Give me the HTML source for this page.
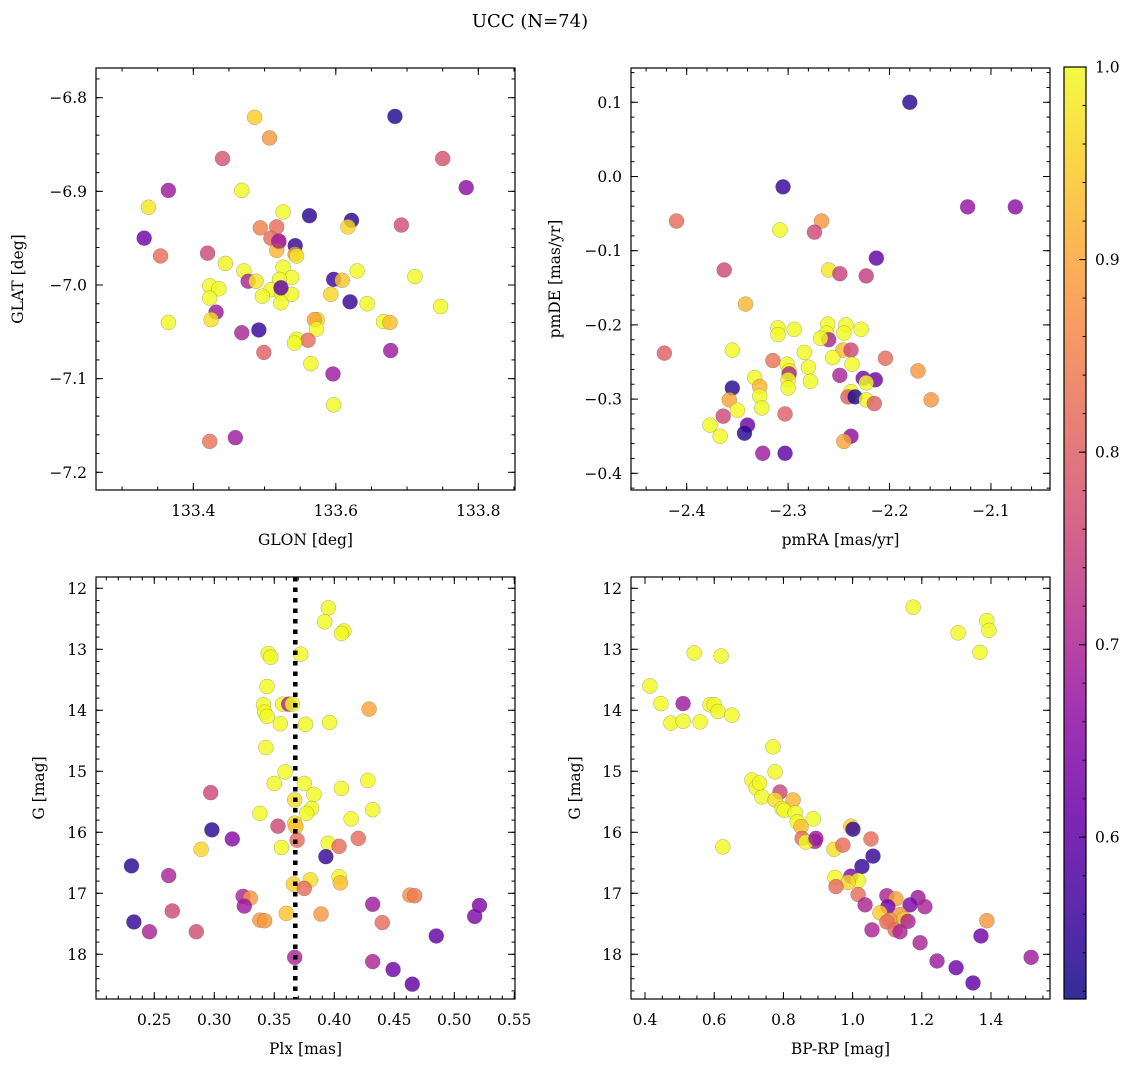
<!DOCTYPE html>
<html><head><meta charset="utf-8">
<style>
html,body{margin:0;padding:0;background:#fff;}
svg{display:block;font-family:"DejaVu Serif","Liberation Serif",serif;}
</style></head>
<body>
<svg id="fig" width="1136" height="1067" viewBox="0 0 1136 1067" xmlns="http://www.w3.org/2000/svg">
<rect width="1136" height="1067" fill="#fff"/>
<text x="530" y="27" font-size="18" text-anchor="middle">UCC (N=74)</text>
</svg>
<script>
// ---- data (panel 1: GLON / GLAT) ----
const glon = [133.486,133.507,133.683,133.441,133.750,133.365,133.468,133.783,133.337,133.526,133.563,133.622,133.617,133.494,133.517,133.692,133.331,133.509,133.520,133.543,133.517,133.354,133.420,133.543,133.545,133.445,133.471,133.526,133.630,133.711,133.538,133.477,133.488,133.597,133.609,133.521,133.423,133.436,133.509,133.423,133.497,133.524,133.538,133.523,133.593,133.620,133.644,133.747,133.432,133.425,133.365,133.574,133.570,133.573,133.667,133.676,133.468,133.492,133.545,133.561,133.542,133.677,133.499,133.565,133.596,133.597,133.423,133.459,133.520,133.523];
const glat = [-6.821,-6.843,-6.820,-6.865,-6.865,-6.899,-6.899,-6.896,-6.917,-6.922,-6.926,-6.931,-6.938,-6.939,-6.938,-6.936,-6.950,-6.950,-6.954,-6.958,-6.963,-6.969,-6.966,-6.967,-6.969,-6.977,-6.985,-6.981,-6.985,-6.991,-6.992,-6.996,-6.996,-6.994,-6.995,-6.994,-7.001,-7.004,-7.005,-7.014,-7.012,-7.009,-7.010,-7.019,-7.010,-7.018,-7.020,-7.023,-7.029,-7.037,-7.040,-7.037,-7.037,-7.047,-7.039,-7.040,-7.051,-7.048,-7.058,-7.059,-7.062,-7.070,-7.072,-7.084,-7.095,-7.128,-7.167,-7.163,-6.953,-7.003];
const prob1 = [0.95,0.88,0.53,0.78,0.78,0.68,1.0,0.66,0.98,1.0,0.54,0.54,0.96,0.85,0.82,0.77,0.62,0.82,0.70,0.55,0.92,0.82,0.76,0.88,0.98,0.99,1.0,1.0,1.0,1.0,1.0,0.70,0.98,0.56,0.94,1.0,1.0,1.0,1.0,1.0,1.0,1.0,1.0,1.0,0.96,0.55,1.0,1.0,0.68,0.97,1.0,0.97,0.90,1.0,1.0,0.93,0.70,0.55,1.0,0.82,1.0,0.68,0.80,1.0,0.68,1.0,0.83,0.68,0.70,0.60];
// ---- data (panel 2: pmRA / pmDE) ----
const pmra = [-2.180,-2.305,-2.123,-2.076,-2.410,-2.267,-2.308,-2.274,-2.213,-2.363,-2.260,-2.249,-2.223,-2.422,-2.342,-2.310,-2.294,-2.310,-2.261,-2.243,-2.228,-2.245,-2.262,-2.260,-2.268,-2.355,-2.246,-2.238,-2.284,-2.256,-2.204,-2.237,-2.315,-2.301,-2.280,-2.299,-2.172,-2.249,-2.226,-2.333,-2.299,-2.300,-2.214,-2.278,-2.223,-2.355,-2.328,-2.300,-2.238,-2.241,-2.358,-2.328,-2.234,-2.159,-2.223,-2.215,-2.350,-2.326,-2.303,-2.377,-2.340,-2.343,-2.364,-2.367,-2.238,-2.245,-2.325,-2.303];
const pmde = [0.100,-0.014,-0.041,-0.041,-0.060,-0.060,-0.072,-0.075,-0.110,-0.126,-0.126,-0.131,-0.134,-0.238,-0.172,-0.204,-0.206,-0.213,-0.199,-0.200,-0.206,-0.211,-0.211,-0.220,-0.218,-0.234,-0.234,-0.234,-0.237,-0.244,-0.245,-0.253,-0.248,-0.253,-0.257,-0.262,-0.262,-0.268,-0.272,-0.271,-0.266,-0.274,-0.274,-0.276,-0.278,-0.285,-0.283,-0.285,-0.290,-0.297,-0.301,-0.296,-0.297,-0.301,-0.301,-0.306,-0.315,-0.312,-0.320,-0.335,-0.335,-0.346,-0.323,-0.350,-0.350,-0.357,-0.373,-0.373];
const prob2 = [0.54,0.55,0.67,0.66,0.82,0.88,1.0,0.76,0.60,0.76,0.98,0.75,0.74,0.80,0.92,1.0,1.0,1.0,1.0,1.0,1.0,1.0,1.0,0.70,1.0,1.0,0.93,0.76,1.0,1.0,0.82,1.0,0.83,1.0,1.0,1.0,0.88,0.70,0.63,1.0,0.70,1.0,0.62,1.0,1.0,0.54,0.92,1.0,1.0,0.80,0.90,1.0,0.53,0.88,1.0,0.80,1.0,1.0,0.80,1.0,0.62,0.54,0.76,1.0,0.66,0.90,0.68,0.60];
// ---- data (panel 3: Plx / G) ----
const plx = [0.395,0.392,0.408,0.406,0.345,0.347,0.372,0.344,0.341,0.342,0.344,0.357,0.362,0.365,0.429,0.355,0.376,0.396,0.343,0.359,0.350,0.375,0.406,0.428,0.297,0.383,0.367,0.381,0.377,0.338,0.432,0.414,0.353,0.367,0.368,0.298,0.315,0.369,0.420,0.395,0.404,0.356,0.289,0.393,0.231,0.262,0.366,0.380,0.404,0.405,0.375,0.324,0.330,0.325,0.463,0.467,0.432,0.521,0.265,0.360,0.389,0.517,0.338,0.342,0.233,0.440,0.246,0.285,0.485,0.367,0.432,0.449,0.465];
const gmag3 = [12.32,12.55,12.70,12.74,13.07,13.13,13.08,13.61,13.91,14.03,14.10,13.90,13.90,13.90,13.98,14.22,14.23,14.20,14.61,15.01,15.20,15.20,15.28,15.15,15.35,15.38,15.47,15.61,15.69,15.69,15.63,15.78,15.90,15.85,15.91,15.96,16.11,16.13,16.10,16.18,16.23,16.25,16.28,16.40,16.55,16.71,16.85,16.78,16.73,16.83,16.92,17.05,17.08,17.21,17.03,17.04,17.18,17.20,17.29,17.33,17.34,17.38,17.44,17.45,17.47,17.48,17.63,17.63,17.70,18.05,18.12,18.25,18.49];
const prob3 = [1.0,1.0,1.0,1.0,1.0,1.0,1.0,1.0,1.0,1.0,1.0,1.0,0.70,1.0,0.90,1.0,1.0,1.0,1.0,1.0,1.0,1.0,1.0,1.0,0.76,1.0,0.97,1.0,1.0,1.0,1.0,1.0,0.76,0.97,0.93,0.54,0.65,0.82,0.82,1.0,0.82,1.0,0.96,0.55,0.54,0.70,0.95,0.97,1.0,0.93,0.82,0.70,0.88,0.68,0.87,0.84,0.68,0.64,0.76,0.94,0.88,0.64,0.88,0.88,0.55,0.82,0.70,0.77,0.60,0.70,0.70,0.62,0.60];
// ---- data (panel 4: BP-RP / G) ----
const bprp = [0.414,0.446,0.510,0.475,0.510,0.542,0.559,0.588,0.600,0.611,0.620,0.651,0.625,0.770,0.776,0.709,0.721,0.738,0.731,0.790,0.776,0.828,0.796,0.802,0.834,0.840,0.886,0.851,0.854,0.891,0.865,0.894,0.995,1.001,0.946,0.972,1.053,1.059,1.027,0.949,0.995,1.016,0.987,0.952,1.016,1.036,1.099,1.125,1.189,1.102,1.166,1.209,1.079,1.137,1.108,1.149,1.160,1.099,1.123,1.056,1.137,1.195,1.244,1.299,1.348,1.371,1.388,1.516,1.175,1.305,1.388,1.394,1.368];
const gmag4 = [13.60,13.89,13.89,14.21,14.18,13.06,14.19,13.91,13.91,14.02,13.11,14.08,16.24,14.60,15.01,15.14,15.27,15.42,15.19,15.34,15.47,15.47,15.61,15.64,15.68,15.83,15.78,15.91,16.10,16.15,16.16,16.10,15.90,15.95,16.28,16.21,16.11,16.39,16.56,16.74,16.72,16.79,16.82,16.89,17.02,17.19,17.04,17.09,17.07,17.22,17.19,17.22,17.32,17.35,17.44,17.42,17.46,17.47,17.60,17.60,17.63,17.81,18.11,18.22,18.47,17.70,17.45,18.05,12.31,12.73,12.53,12.69,13.05];
const prob4 = [1.0,1.0,0.68,1.0,1.0,1.0,1.0,1.0,1.0,1.0,1.0,1.0,1.0,1.0,1.0,1.0,1.0,1.0,1.0,0.76,0.97,0.92,1.0,1.0,1.0,1.0,1.0,0.93,0.82,0.70,1.0,0.68,0.96,0.55,0.97,0.82,0.82,0.55,0.55,1.0,0.65,1.0,0.96,0.82,0.82,0.70,0.70,0.90,0.68,0.62,0.64,0.70,0.95,0.88,0.88,0.94,0.70,0.82,0.82,0.70,0.70,0.70,0.68,0.62,0.60,0.62,0.88,0.68,1.0,1.0,1.0,1.0,1.0];
const plxLine = [0.3675];
const cbarTicks = [0.6,0.7,0.8,0.9,1.0];
const vmin = 0.516, vmax = 1.0;

const svg = document.getElementById('fig');
const NS = 'http://www.w3.org/2000/svg';
function mk(tag, attrs, parent){ const e=document.createElementNS(NS,tag); for(const k in attrs) e.setAttribute(k,attrs[k]); (parent||svg).appendChild(e); return e; }

const plasma = ['#0d0887','#41049d','#6a00a8','#8f0da4','#b12a90','#cc4778','#e16462','#f2844b','#fca636','#fcce25','#f0f921'];
function hex(h){return [parseInt(h.slice(1,3),16),parseInt(h.slice(3,5),16),parseInt(h.slice(5,7),16)];}
function cmap(v){ let t=(v-vmin)/(vmax-vmin); t=Math.max(0,Math.min(1,t)); const f=t*10, i=Math.min(9,Math.floor(f)), r=f-i; const a=hex(plasma[i]), b=hex(plasma[i+1]); return 'rgb('+a.map((c,k)=>Math.round(c+(b[k]-c)*r)).join(',')+')'; }

function fmt(v,d){ const s=Math.abs(v).toFixed(d); return (v<-1e-9?'\u2212':'')+s; }

function panel(cfg){
  const g = mk('g',{});
  
  
  const sx = v => cfg.x0 + (v-cfg.xlim[0])/(cfg.xlim[1]-cfg.xlim[0])*(cfg.x1-cfg.x0);
  const sy = v => cfg.y1 - (v-cfg.ylim[0])/(cfg.ylim[1]-cfg.ylim[0])*(cfg.y1-cfg.y0);
  const pg = mk('g',{}, g);
  
  
  for(let i=0;i<Math.min(cfg.xs.length,cfg.ys.length,cfg.cs.length);i++){
    const c = mk('circle',{cx:sx(cfg.xs[i]),cy:sy(cfg.ys[i]),r:7.5,fill:cmap(cfg.cs[i]),'fill-opacity':0.82,stroke:'#555','stroke-width':0.4,'stroke-opacity':0.6}, pg);
    
    
  }
  if(cfg.vline){
    for(const v of cfg.vline){
      const l = mk('line',{x1:sx(v),x2:sx(v),y1:cfg.y0,y2:cfg.y1,stroke:'#000','stroke-width':4.5,'stroke-dasharray':'4.5 6'}, g);
      
      
    }
  }
  const fr = mk('rect',{x:cfg.x0,y:cfg.y0,width:cfg.x1-cfg.x0,height:cfg.y1-cfg.y0,fill:'none',stroke:'#000','stroke-width':1.2}, g);
  
  
  const eps=1e-9;
  function xticks(step, len, labels, dec){
    const s=Math.ceil(cfg.xlim[0]/step-eps), e=Math.floor(cfg.xlim[1]/step+eps);
    for(let k=s;k<=e;k++){ const v=k*step, x=sx(v);
      mk('line',{x1:x,x2:x,y1:cfg.y1,y2:cfg.y1-len,stroke:'#000','stroke-width':1},g);
      mk('line',{x1:x,x2:x,y1:cfg.y0,y2:cfg.y0+len,stroke:'#000','stroke-width':1},g);
      if(labels){ const t=mk('text',{x:x,y:cfg.y1+26,'font-size':15.5,'text-anchor':'middle'},g); t.textContent=fmt(v,dec);
          }
    }
  }
  function yticks(step, len, labels, dec){
    const lo=Math.min(...cfg.ylim), hi=Math.max(...cfg.ylim);
    const s=Math.ceil(lo/step-eps), e=Math.floor(hi/step+eps);
    for(let k=s;k<=e;k++){ const v=k*step, y=sy(v);
      mk('line',{x1:cfg.x0,x2:cfg.x0+len,y1:y,y2:y,stroke:'#000','stroke-width':1},g);
      mk('line',{x1:cfg.x1,x2:cfg.x1-len,y1:y,y2:y,stroke:'#000','stroke-width':1},g);
      if(labels){ const t=mk('text',{x:cfg.x0-9,y:y+5.5,'font-size':15.5,'text-anchor':'end'},g); t.textContent=fmt(v,dec);
          }
    }
  }
  xticks(cfg.xmaj,7,true,cfg.xdec); xticks(cfg.xmin,3.5,false);
  yticks(cfg.ymaj,7,true,cfg.ydec); yticks(cfg.ymin,3.5,false);
  const xl = mk('text',{x:(cfg.x0+cfg.x1)/2,y:cfg.y1+55,'font-size':15.5,'text-anchor':'middle'},g);
  xl.textContent=cfg.xlabel;
  
  
  const yx=cfg.ylx, yy=(cfg.y0+cfg.y1)/2;
  const yl = mk('text',{x:yx,y:yy,'font-size':15.5,'text-anchor':'middle',transform:'rotate(-90 '+yx+' '+yy+')'},g);
  yl.textContent=cfg.ylabel;
  
  
}

panel({name:'glon-glat-panel',x0:96,x1:515,y0:68,y1:490,xlim:[133.2634,133.8515],ylim:[-7.2189,-6.7683],
  xs:glon,ys:glat,cs:prob1,xmaj:0.2,xmin:0.05,xdec:1,ymaj:0.1,ymin:0.02,ydec:1,xlabel:'GLON [deg]',ylabel:'GLAT [deg]',ylx:23});
panel({name:'pm-panel',x0:631,x1:1050,y0:68,y1:490,xlim:[-2.4549,-2.0418],ylim:[-0.4225,0.1462],
  xs:pmra,ys:pmde,cs:prob2,xmaj:0.1,xmin:0.02,xdec:1,ymaj:0.1,ymin:0.02,ydec:1,xlabel:'pmRA [mas/yr]',ylabel:'pmDE [mas/yr]',ylx:560});
panel({name:'plx-g-panel',x0:96,x1:515,y0:577,y1:999,xlim:[0.20142,0.5506],ylim:[18.733,11.815],
  xs:plx,ys:gmag3,cs:prob3,xmaj:0.05,xmin:0.01,xdec:2,ymaj:1,ymin:0.2,ydec:0,xlabel:'Plx [mas]',ylabel:'G [mag]',ylx:44,vline:plxLine});
panel({name:'cmd-panel',x0:631,x1:1050,y0:577,y1:999,xlim:[0.3595,1.5705],ylim:[18.733,11.815],
  xs:bprp,ys:gmag4,cs:prob4,xmaj:0.2,xmin:0.05,xdec:1,ymaj:1,ymin:0.2,ydec:0,xlabel:'BP-RP [mag]',ylabel:'G [mag]',ylx:580});

const cb = mk('g',{});


const defs = mk('defs',{},cb);
const lg = mk('linearGradient',{id:'cbg',x1:0,y1:1,x2:0,y2:0},defs);
for(let i=0;i<=20;i++){ mk('stop',{offset:i/20,'stop-color':cmap(vmin+(vmax-vmin)*i/20),'stop-opacity':0.85},lg); }
const cbx0=1064, cbx1=1086, cby0=67, cby1=999;
mk('rect',{x:cbx0,y:cby0,width:cbx1-cbx0,height:cby1-cby0,fill:'url(#cbg)',stroke:'#000','stroke-width':1.2},cb);
const cy = v => cby1-(v-vmin)/(vmax-vmin)*(cby1-cby0);
for(let v=0.52; v<=1.0001; v+=0.02){ const y=cy(v); mk('line',{x1:cbx1,x2:cbx1-3.5,y1:y,y2:y,stroke:'#000','stroke-width':1},cb); }
for(const v of cbarTicks){ const y=cy(v);
  mk('line',{x1:cbx1,x2:cbx1-7,y1:y,y2:y,stroke:'#000','stroke-width':1},cb);
  const t=mk('text',{x:cbx1+9,y:y+5.5,'font-size':15.5},cb); t.textContent=v.toFixed(1);
  
  
}
</script>
</body></html>
